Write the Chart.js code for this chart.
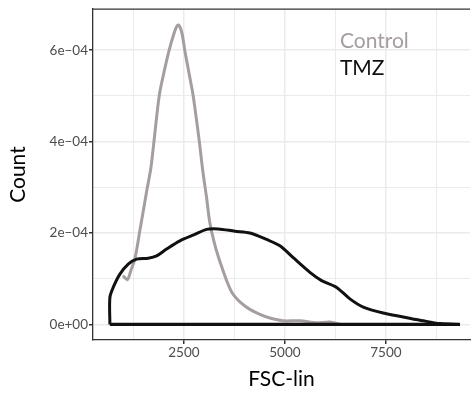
<!DOCTYPE html>
<html>
<head>
<meta charset="utf-8">
<script src="https://cdn.jsdelivr.net/npm/chart.js@4"></script>
<style>
  html, body { margin: 0; padding: 0; background: #fff; }
  #wrap { width: 475px; height: 401px; }
</style>
</head>
<body>
<div id="wrap"><canvas id="densityChart" width="475" height="401"></canvas></div>
<script>
// Control density curve (FSC-lin vs density)
const controlX = [990, 1101, 1188, 1287, 1411, 1577, 1683, 1757, 1888, 2005, 2129, 2252, 2327, 2376, 2450, 2525, 2624, 2730, 2809, 2883, 2970, 3057, 3143, 3284, 3416, 3557, 3688, 3844, 3985, 4133, 4381, 4628, 4950, 5371, 5784, 6113, 6361];
const controlY = [1.07e-4, 0.98e-4, 1.18e-4, 1.44e-4, 2.06e-4, 2.91e-4, 3.43e-4, 3.99e-4, 5.0e-4, 5.51e-4, 5.98e-4, 6.36e-4, 6.53e-4, 6.55e-4, 6.38e-4, 5.98e-4, 5.51e-4, 5.0e-4, 4.49e-4, 3.99e-4, 3.34e-4, 2.8e-4, 2.22e-4, 1.68e-4, 1.31e-4, 0.96e-4, 0.7e-4, 0.53e-4, 0.42e-4, 0.33e-4, 0.22e-4, 0.14e-4, 0.08e-4, 0.08e-4, 0.035e-4, 0.056e-4, 0];

// TMZ density curve
const tmzX = [668, 668, 750, 916, 1121, 1329, 1616, 1824, 2071, 2401, 2772, 3061, 3349, 3762, 4133, 4546, 4876, 5205, 5618, 5907, 6279, 6608, 6938, 7433, 7928, 8423, 8836, 9331];
const tmzY = [0, 0.59e-4, 0.81e-4, 1.10e-4, 1.32e-4, 1.43e-4, 1.45e-4, 1.50e-4, 1.65e-4, 1.83e-4, 1.97e-4, 2.08e-4, 2.09e-4, 2.04e-4, 2.0e-4, 1.86e-4, 1.72e-4, 1.46e-4, 1.14e-4, 0.96e-4, 0.81e-4, 0.56e-4, 0.38e-4, 0.25e-4, 0.165e-4, 0.08e-4, 0.02e-4, 0];

// axes
const xGridValues = [1250, 2500, 3750, 5000, 6250, 7500, 8750];
const xTickValues = [2500, 5000, 7500];
const xTickLabels = ['2500', '5000', '7500'];
const yGridValues = [0, 1e-4, 2e-4, 3e-4, 4e-4, 5e-4, 6e-4];
const yTickValues = [0, 2e-4, 4e-4, 6e-4];
const yTickLabels = ['0e+00', '2e\u221204', '4e\u221204', '6e\u221204'];

const seriesNames = ['Control', 'TMZ'];
const seriesColors = ['#a59e9e', '#111111'];

function toPoints(xs, ys) {
  return xs.map((x, i) => ({ x: x, y: ys[i] }));
}

const controlPoints = toPoints(controlX, controlY);
const tmzPoints = toPoints(tmzX, tmzY);
// close the TMZ polygon along the baseline
const tmzBase = [{ x: tmzX[tmzX.length - 1], y: 0 }, { x: tmzX[0], y: 0 }];

const FONT = 'Lato, "Open Sans", sans-serif';

// top border of the panel + in-panel labels
const panelExtras = {
  id: 'panelExtras',
  afterDatasetsDraw(chart) {
    const { ctx, chartArea, scales } = chart;
    ctx.save();
    ctx.strokeStyle = '#333333';
    ctx.lineWidth = 1.3;
    ctx.beginPath();
    ctx.moveTo(chartArea.left, chartArea.top);
    ctx.lineTo(chartArea.right, chartArea.top);
    ctx.stroke();

    ctx.font = '21px ' + FONT;
    ctx.textAlign = 'left';
    ctx.textBaseline = 'middle';
    const lx = scales.x.getPixelForValue(6361);
    ctx.fillStyle = seriesColors[0];
    ctx.fillText(seriesNames[0], lx, scales.y.getPixelForValue(6.2e-4));
    ctx.fillStyle = seriesColors[1];
    ctx.fillText(seriesNames[1], lx, scales.y.getPixelForValue(5.6e-4));
    ctx.restore();
  }
};

const ctx = document.getElementById('densityChart').getContext('2d');
const densityChart = new Chart(ctx, {
  type: 'scatter',
  data: {
    datasets: [
      {
        label: 'TMZ',
        data: tmzPoints,
        showLine: true,
        borderColor: seriesColors[1],
        borderWidth: 3,
        pointRadius: 0,
        tension: 0.3,
        order: 0
      },
      {
        label: 'TMZ base',
        data: tmzBase,
        showLine: true,
        borderColor: seriesColors[1],
        borderWidth: 3.2,
        pointRadius: 0,
        tension: 0,
        order: 0
      },
      {
        label: 'Control',
        data: controlPoints,
        showLine: true,
        borderColor: seriesColors[0],
        borderWidth: 3,
        pointRadius: 0,
        tension: 0.3,
        order: 1
      }
    ]
  },
  options: {
    responsive: false,
    animation: false,
    layout: { padding: { left: 0, top: 6, right: 5, bottom: 0 } },
    plugins: {
      legend: { display: false },
      tooltip: { enabled: false }
    },
    scales: {
      x: {
        type: 'linear',
        min: 250,
        max: 9580,
        afterBuildTicks: (scale) => {
          scale.ticks = xGridValues.map(v => ({ value: v }));
        },
        afterFit: (scale) => { scale.height = 61; },
        ticks: {
          autoSkip: false,
          maxRotation: 0,
          padding: 1,
          color: '#4d4d4d',
          font: { family: FONT, size: 13.5 },
          callback: (v) => {
            const i = xTickValues.indexOf(v);
            return i >= 0 ? xTickLabels[i] : '';
          }
        },
        grid: {
          color: '#ebebeb',
          lineWidth: (c) => (c.tick && xTickValues.includes(c.tick.value)) ? 1.5 : 1,
          tickLength: 4,
          tickColor: (c) => (c.tick && xTickValues.includes(c.tick.value)) ? '#333333' : 'rgba(0,0,0,0)'
        },
        border: { display: true, color: '#333333', width: 1.3 },
        title: {
          display: true,
          text: 'FSC-lin',
          color: '#000',
          font: { family: FONT, size: 21 },
          padding: { top: 0, bottom: 9 }
        }
      },
      y: {
        type: 'linear',
        min: -0.34e-4,
        max: 6.9e-4,
        afterBuildTicks: (scale) => {
          scale.ticks = yGridValues.map(v => ({ value: v }));
        },
        afterFit: (scale) => { scale.width = 93; },
        ticks: {
          autoSkip: false,
          padding: 1,
          color: '#4d4d4d',
          font: { family: FONT, size: 13.5 },
          callback: (v) => {
            const i = yTickValues.findIndex(t => Math.abs(t - v) < 1e-9);
            return i >= 0 ? yTickLabels[i] : '';
          }
        },
        grid: {
          color: '#ebebeb',
          lineWidth: (c) => (c.tick && yTickValues.some(t => Math.abs(t - c.tick.value) < 1e-9)) ? 1.5 : 1,
          tickLength: 4,
          tickColor: (c) => (c.tick && yTickValues.some(t => Math.abs(t - c.tick.value) < 1e-9)) ? '#333333' : 'rgba(0,0,0,0)'
        },
        border: { display: true, color: '#333333', width: 1.3 },
        title: {
          display: true,
          text: 'Count',
          color: '#000',
          font: { family: FONT, size: 21 },
          padding: { top: 5.5, bottom: 0 }
        }
      }
    }
  },
  plugins: [panelExtras]
});
</script>
</body>
</html>
